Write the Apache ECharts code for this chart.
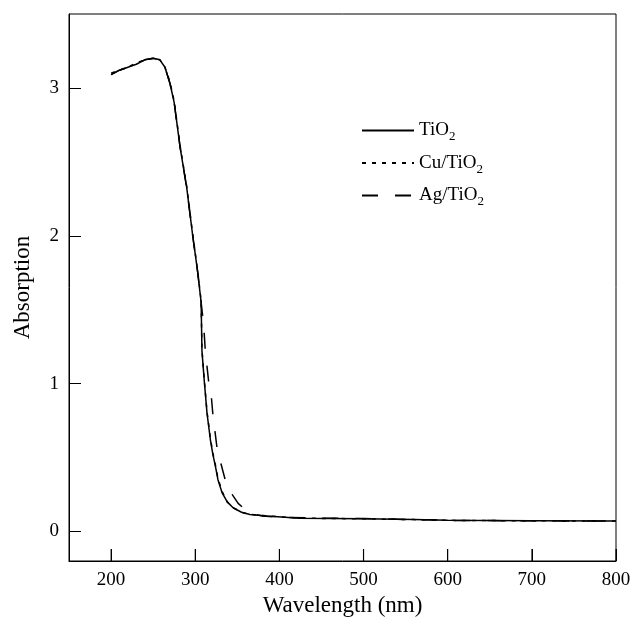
<!DOCTYPE html>
<html style="height: 100%">
<head>
<meta charset="utf-8">
<script src="https://cdn.jsdelivr.net/npm/echarts@6/dist/echarts.min.js"></script>
</head>
<body style="height: 100%; margin: 0">
<div id="container" style="width: 630px; height: 620px"></div>
<script type="text/javascript">
// wavelength (nm) / absorption
var tioX = [200, 210, 220, 230, 240, 250, 258, 264, 270, 275, 282, 290, 297, 303, 307, 308, 311, 314, 318, 321, 324, 327, 332, 338, 345, 355, 365, 385, 424, 500, 560, 600, 700, 800];
var tioY = [3.09, 3.12, 3.14, 3.16, 3.19, 3.20, 3.19, 3.14, 3.03, 2.90, 2.60, 2.32, 2.00, 1.75, 1.55, 1.22, 1.00, 0.80, 0.62, 0.52, 0.44, 0.35, 0.26, 0.20, 0.16, 0.13, 0.115, 0.105, 0.09, 0.085, 0.08, 0.075, 0.072, 0.07];
var cuX = [200, 210, 220, 230, 240, 250, 258, 264, 270, 275, 282, 290, 297, 303, 307, 308, 311, 314, 318, 321, 324, 327, 332, 338, 345, 355, 365, 385, 424, 500, 560, 600, 700, 800];
var cuY = [3.10, 3.12, 3.14, 3.17, 3.19, 3.20, 3.19, 3.14, 3.04, 2.91, 2.61, 2.33, 2.01, 1.76, 1.56, 1.23, 1.01, 0.81, 0.63, 0.53, 0.45, 0.36, 0.27, 0.20, 0.16, 0.13, 0.115, 0.105, 0.09, 0.085, 0.08, 0.075, 0.072, 0.07];
var agX = [200, 210, 220, 230, 240, 250, 258, 264, 270, 275, 282, 290, 297, 303, 307, 310, 312, 316, 319, 321, 326, 330, 337, 345, 351, 357, 367, 380, 400, 450, 500, 560, 600, 700, 800];
var agY = [3.09, 3.12, 3.14, 3.16, 3.19, 3.20, 3.19, 3.14, 3.03, 2.90, 2.60, 2.32, 2.00, 1.75, 1.55, 1.40, 1.22, 1.01, 0.92, 0.79, 0.56, 0.47, 0.32, 0.24, 0.19, 0.16, 0.12, 0.105, 0.095, 0.09, 0.087, 0.08, 0.075, 0.072, 0.07];
var names = ['TiO2', 'Cu/TiO2', 'Ag/TiO2'];
var xTicks = [200, 300, 400, 500, 600, 700, 800];
var yTicks = [0, 1, 2, 3];
var yMin = -0.2, yMax = 3.5;

function pairs(xs, ys) {
    var out = [];
    for (var i = 0; i < xs.length; i++) out.push([xs[i], ys[i]]);
    return out;
}

var font = 'Liberation Serif';
var myChart = echarts.init(document.getElementById('container'));

var option = {
    animation: false,
    backgroundColor: '#fff',
    textStyle: {fontFamily: font, color: '#000'},
    grid: {left: 69, right: 14, top: 14, bottom: 59, show: true, borderColor: '#000', borderWidth: 1,
           outerBoundsMode: 'none', containLabel: false},
    legend: {
        orient: 'vertical',
        left: 356,
        top: 116,
        itemWidth: 52,
        itemHeight: 14,
        itemGap: 10,
        data: names,
        itemStyle: {opacity: 0},
        textStyle: {
            fontFamily: font, fontSize: 19, color: '#000', padding: [0, 0, 0, 0],
            rich: {
                n: {fontFamily: font, fontSize: 19, color: '#000'},
                s: {fontFamily: font, fontSize: 13, color: '#000', verticalAlign: 'bottom', padding: [13, 0, 0, 0]}
            }
        },
        formatter: function (name) {
            return '{n|' + name.slice(0, -1) + '}{s|2}';
        }
    },
    xAxis: {
        type: 'value', min: 150, max: 800,
        name: 'Wavelength (nm)', nameLocation: 'middle', nameGap: 32,
        nameTextStyle: {fontFamily: font, fontSize: 23, color: '#000'},
        axisLine: {show: true, onZero: false, lineStyle: {color: '#000', width: 1}},
        axisTick: {show: true, inside: true, length: 12, lineStyle: {color: '#000', width: 1}, customValues: xTicks},
        axisLabel: {fontFamily: font, fontSize: 19, color: '#000', margin: 10, customValues: xTicks},
        splitLine: {show: false}
    },
    yAxis: {
        type: 'value', min: yMin, max: yMax,
        name: 'Absorption', nameLocation: 'middle', nameGap: 35,
        nameTextStyle: {fontFamily: font, fontSize: 23, color: '#000'},
        axisLine: {show: true, onZero: false, lineStyle: {color: '#000', width: 1}},
        axisTick: {show: true, inside: true, length: 12, lineStyle: {color: '#000', width: 1}, customValues: yTicks},
        axisLabel: {fontFamily: font, fontSize: 19, color: '#000', margin: 10, customValues: yTicks},
        splitLine: {show: false}
    },
    series: [
        {name: names[0], type: 'line', data: pairs(tioX, tioY), symbol: 'none', color: '#000',
         lineStyle: {color: '#000', width: 1.5, type: 'solid'}},
        {name: names[1], type: 'line', data: pairs(cuX, cuY), symbol: 'none', color: '#000',
         lineStyle: {color: '#000', width: 1.5, type: [4, 6]}},
        {name: names[2], type: 'line', data: pairs(agX, agY), symbol: 'none', color: '#000',
         lineStyle: {color: '#000', width: 1.5, type: [16, 17]}},
        // inward tick marks on the bottom edge, one per x tick value
        {name: 'xticks', type: 'scatter', silent: true, clip: false, z: 10,
         data: xTicks.map(function (v) { return [v, yMin]; }),
         symbol: 'rect', symbolSize: [1.2, 12], symbolOffset: [0, -6],
         itemStyle: {color: '#000'}, emphasis: {disabled: true}}
    ]
};
myChart.setOption(option);
</script>
</body>
</html>
